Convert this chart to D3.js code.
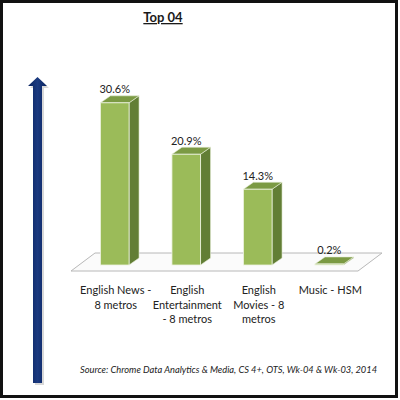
<!DOCTYPE html>
<html><head><meta charset="utf-8">
<script src="https://cdn.jsdelivr.net/npm/d3@7"></script>
<style>html,body{margin:0;padding:0;background:#fff;}svg{display:block;}</style>
</head><body>
<script>
const title = "Top 04";
const categories = ["English News - 8 metros", "English Entertainment - 8 metros", "English Movies - 8 metros", "Music - HSM"];
const categoryLines = [["English News -", "8 metros"], ["English", "Entertainment", "- 8 metros"], ["English", "Movies - 8", "metros"], ["Music - HSM"]];
const values = [30.6, 20.9, 14.3, 0.2];
const valueLabels = ["30.6%", "20.9%", "14.3%", "0.2%"];
const source = "Source: Chrome Data Analytics & Media, CS 4+, OTS, Wk-04 & Wk-03, 2014";

const W = 400, H = 400;
const svg = d3.select("body").append("svg").attr("width", W).attr("height", H);
const font = "Lato, 'Open Sans', sans-serif";

// frame
svg.append("rect").attr("x", 1.5).attr("y", 1.5).attr("width", 395).attr("height", 395)
  .attr("fill", "#fff").attr("stroke", "#111").attr("stroke-width", 3);

// title
svg.append("text").attr("x", 163).attr("y", 22).attr("text-anchor", "middle")
  .attr("font-family", font).attr("font-weight", "bold").attr("font-size", 13)
  .attr("fill", "#1a1a1a").attr("text-decoration", "underline").text(title);

// arrow
const defs = svg.append("defs");
const g1 = defs.append("linearGradient").attr("id", "arr").attr("x1", 0).attr("x2", 1);
g1.append("stop").attr("offset", 0).attr("stop-color", "#0a2460");
g1.append("stop").attr("offset", 0.5).attr("stop-color", "#1b3a80");
g1.append("stop").attr("offset", 1).attr("stop-color", "#0a2460");
const arrowPath = "M33,86 L28,86 L37.5,77 L47,86 L42,86 L42,383 L33,383 Z";
svg.append("path").attr("d", arrowPath).attr("transform", "translate(2,2)").attr("fill", "#c8c8c8").attr("opacity", 0.7);
svg.append("path").attr("d", arrowPath).attr("fill", "url(#arr)");

// scales
const x = d3.scaleBand().domain(categories).range([79, 365]).paddingInner(0.6).paddingOuter(0.3);
const y = d3.scaleLinear().domain([0, 35]).range([265, 79.5]);
const dx = 10, dy = -7;

// floor
const floorPts = [[71, 271], [358, 271], [382, 253], [95, 253]];
svg.append("polygon").attr("points", floorPts.map(p => p.join(",")).join(" "))
  .attr("fill", "#fbfbfb").attr("stroke", "#b8b8b8").attr("stroke-width", 1);

// bars
const bars = svg.append("g").selectAll("g").data(categories).join("g");
bars.each(function (c, i) {
  const g = d3.select(this);
  const x0 = x(c), x1 = x(c) + x.bandwidth();
  const yt = y(values[i]), yb = y(0);
  g.append("polygon").attr("points", [[x1, yb], [x1 + dx, yb + dy], [x1 + dx, yt + dy], [x1, yt]].map(p => p.join(",")).join(" "))
    .attr("fill", "#627e35").attr("stroke", "#e8efd9").attr("stroke-width", 0.6);
  g.append("polygon").attr("points", [[x0, yt], [x0 + dx, yt + dy], [x1 + dx, yt + dy], [x1, yt]].map(p => p.join(",")).join(" "))
    .attr("fill", "#7b9a43").attr("stroke", "#e8efd9").attr("stroke-width", 0.6);
  if (yb - yt > 0.5) {
    g.append("rect").attr("x", x0).attr("y", yt).attr("width", x.bandwidth()).attr("height", yb - yt)
      .attr("fill", "#9bbb59").attr("stroke", "#eef3e2").attr("stroke-width", 0.8);
  }
  g.append("text").attr("x", x0 + x.bandwidth() / 2).attr("y", yt + dy - 2.5)
    .attr("text-anchor", "middle").attr("font-family", font).attr("font-size", 11)
    .attr("fill", "#222").text(valueLabels[i]);
  const tl = g.append("text").attr("text-anchor", "middle").attr("font-family", font)
    .attr("font-size", 11).attr("fill", "#222");
  categoryLines[i].forEach((ln, k) => {
    tl.append("tspan").attr("x", x0 + x.bandwidth() / 2 + 1).attr("y", 294 + k * 14.5).text(ln);
  });
});

// source
svg.append("text").attr("x", 80).attr("y", 373).attr("font-family", font)
  .attr("font-style", "italic").attr("font-size", 9.3).attr("fill", "#222").text(source);
</script>
</body></html>
